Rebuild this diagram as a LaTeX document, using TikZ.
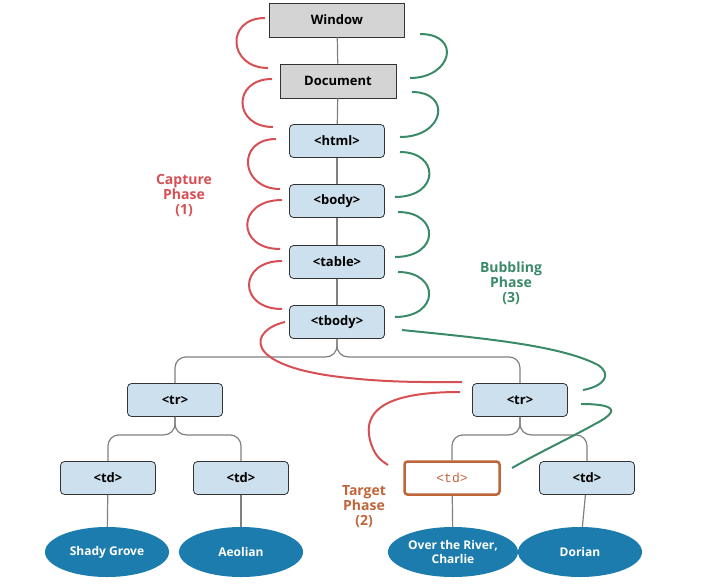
\documentclass[tikz,border=0pt]{standalone}
\usepackage{fontspec}
\setmainfont{Open Sans}
\newfontfamily\monof{Liberation Mono}
\usetikzlibrary{shapes.geometric}
\definecolor{cred}{HTML}{D64F55}
\definecolor{cgreen}{HTML}{3A8A68}
\definecolor{corange}{HTML}{C0653A}
\definecolor{cblue}{HTML}{CDE0ED}
\definecolor{cgray}{HTML}{D4D4D4}
\definecolor{cell}{HTML}{1C7CAE}
\begin{document}
\begin{tikzpicture}[x=1pt,y=-1pt,
 font=\fontsize{13}{15}\selectfont\bfseries,
 gbox/.style={draw=black!80,fill=cgray,line width=0.8pt,minimum height=34pt,inner sep=0pt},
 bbox/.style={draw=black!80,fill=cblue,line width=0.8pt,rounded corners=4pt,minimum width=95pt,minimum height=33pt,inner sep=0pt},
 leaf/.style={ellipse,fill=cell,text=white,minimum width=124pt,minimum height=50pt,inner sep=0pt,align=center,font=\fontsize{12}{14}\selectfont\bfseries},
 tree/.style={draw=gray,line width=1.2pt,rounded corners=11pt},
 capline/.style={draw=cred,line width=2pt},
 bub/.style={draw=cgreen,line width=2pt},
 lab/.style={align=center,font=\fontsize{14}{15}\selectfont\bfseries}]
\useasboundingbox (0,0) rectangle (710,587);
\node[gbox,minimum width=135pt] (win) at (337,20) {Window};
\node[gbox,minimum width=116pt] (doc) at (338,81) {Document};
\node[bbox] (html) at (337,141) {<html>};
\node[bbox] (body) at (337,201) {<body>};
\node[bbox] (table) at (337,262) {<table>};
\node[bbox] (tbody) at (337,322) {<tbody>};
\node[bbox] (trl) at (175,400) {<tr>};
\node[bbox] (trr) at (520,400) {<tr>};
\node[bbox] (td1) at (108,478) {<td>};
\node[bbox] (td2) at (241,478) {<td>};
\node[draw=corange,line width=2.5pt,rounded corners=3pt,fill=white,minimum width=95pt,minimum height=33pt,inner sep=0pt,text=corange,font=\fontsize{13}{15}\selectfont\monof] (tdt) at (452,478) {<td>};
\node[bbox] (td4) at (587,478) {<td>};
\node[leaf] (e1) at (107,552) {Shady Grove};
\node[leaf] (e2) at (241,552) {Aeolian};
\node[leaf,minimum width=130pt] (e3) at (453,552) {Over the River,\\Charlie};
\node[leaf] (e4) at (580,552) {Dorian};
% tree
\draw[tree] (win) -- (doc);
\draw[tree] (doc) -- (html);
\draw[tree] (html) -- (body);
\draw[tree] (body) -- (table);
\draw[tree] (table) -- (tbody);
\draw[tree] (tbody.south) -- ++(0,18) -| (trl.north);
\draw[tree] (tbody.south) -- ++(0,18) -| (trr.north);
\draw[tree] (trl.south) -- ++(0,18) -| (td1.north);
\draw[tree] (trl.south) -- ++(0,18) -| (td2.north);
\draw[tree] (trr.south) -- ++(0,18) -| (tdt.north);
\draw[tree] (trr.south) -- ++(0,18) -| (td4.north);
\draw[tree] (td1) -- (e1);
\draw[tree] (td2) -- (e2);
\draw[tree] (tdt) -- (e3);
\draw[tree] (td4) -- (e4);
% capture
\coordinate (c1) at (265,18); \coordinate (c2) at (268,68);
\coordinate (c3) at (272,79); \coordinate (c4) at (273,127);
\coordinate (c5) at (276,139); \coordinate (c6) at (280,189);
\coordinate (c7) at (282,200); \coordinate (c8) at (280,249);
\coordinate (c9) at (282,261); \coordinate (c10) at (282,309);
\coordinate (c11) at (285,322); \coordinate (c12) at (462,382);
\coordinate (c13) at (460,392); \coordinate (c14) at (388,465);
\draw[capline] (c1) .. controls (225,18) and (228,68) .. (c2);
\draw[capline] (c3) .. controls (232,79) and (233,127) .. (c4);
\draw[capline] (c5) .. controls (236,139) and (240,189) .. (c6);
\draw[capline] (c7) .. controls (236,200) and (236,249) .. (c8);
\draw[capline] (c9) .. controls (238,261) and (238,309) .. (c10);
\draw[capline] (c11) .. controls (250,330) and (240,365) .. (340,377) .. controls (390,383) and (430,382) .. (c12);
\draw[capline] (c13) .. controls (410,392) and (360,400) .. (370,440) .. controls (374,455) and (380,460) .. (c14);
% bubbling
\coordinate (b1) at (420,34); \coordinate (b2) at (410,78);
\coordinate (b3) at (412,92); \coordinate (b4) at (400,137);
\coordinate (b5) at (400,152); \coordinate (b6) at (395,197);
\coordinate (b7) at (398,212); \coordinate (b8) at (395,257);
\coordinate (b9) at (398,272); \coordinate (b10) at (395,317);
\coordinate (b11) at (402,330); \coordinate (b12) at (583,390);
\coordinate (b13) at (581,404); \coordinate (b14) at (512,468);
\draw[bub] (b1) .. controls (462,34) and (452,78) .. (b2);
\draw[bub] (b3) .. controls (452,92) and (445,137) .. (b4);
\draw[bub] (b5) .. controls (440,152) and (440,197) .. (b6);
\draw[bub] (b7) .. controls (440,212) and (440,257) .. (b8);
\draw[bub] (b9) .. controls (440,272) and (440,317) .. (b10);
\draw[bub] (b11) .. controls (480,338) and (560,345) .. (598,365) .. controls (612,374) and (605,386) .. (b12);
\draw[bub] (b13) .. controls (600,404) and (630,406) .. (595,424) .. controls (570,438) and (540,452) .. (b14);
% labels
\node[lab,text=cred] (lc) at (184,196) {Capture\\Phase\\(1)};
\node[lab,text=cgreen] (lb) at (511,283) {Bubbling\\Phase\\(3)};
\node[lab,text=corange] (lt) at (364,507) {Target\\Phase\\(2)};
\end{tikzpicture}
\end{document}
